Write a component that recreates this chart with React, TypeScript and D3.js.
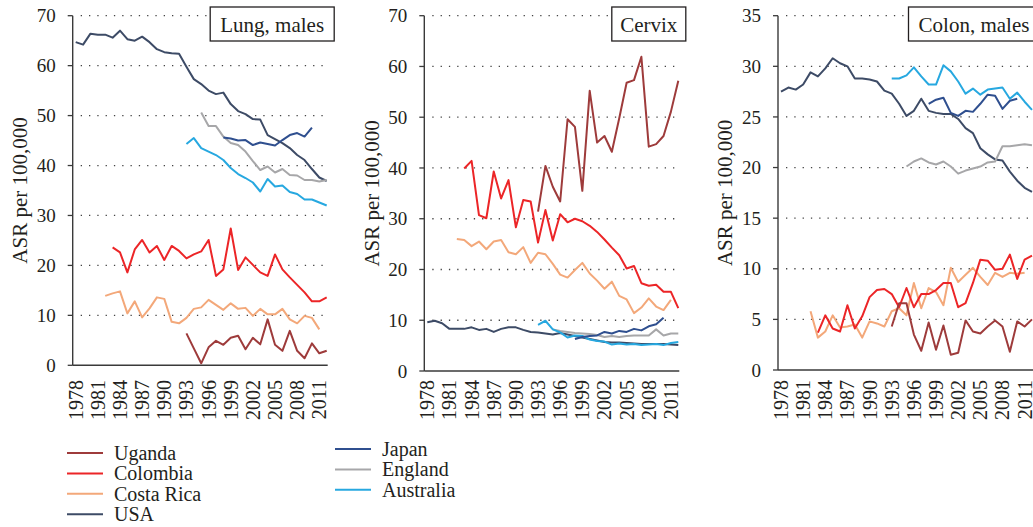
import React, { useEffect, useRef } from 'react';
import * as d3 from 'd3';

// first year of each country's series
const countries = ['Uganda', 'Colombia', 'Costa Rica', 'USA', 'Japan', 'England', 'Australia'];
const startYears = [1993, 1983, 1982, 1978, 1998, 1995, 1993];
const colors = ['#9e3b3b', '#ec2527', '#f3a87a', '#3d4b66', '#2f4f8f', '#a7a7a9', '#27a8e0'];

const tickYears = [1978, 1981, 1984, 1987, 1990, 1993, 1996, 1999, 2002, 2005, 2008, 2011];

// Lung, males
const lungUganda = [6.4, 3.4, 0.4, 3.6, 4.9, 4.1, 5.5, 5.9, 3.2, 5.5, 4.2, 9.2, 4.1, 2.9, 6.9, 2.9, 1.4, 4.4, 2.4, 2.9];
const lungColombia = [23.6, 22.6, 18.6, 23.2, 25.1, 22.6, 23.9, 21.1, 23.9, 22.9, 21.4, 22.2, 22.8, 25.1, 17.9, 19.2, 27.4, 19.1, 21.6, 20.1, 18.6, 17.9, 22.2, 19.2, 17.6, 16.1, 14.6, 12.8, 12.8, 13.6];
const lungCostaRica = [13.9, 14.4, 14.8, 10.4, 12.8, 9.6, 11.4, 13.6, 13.3, 8.7, 8.4, 9.5, 11.3, 11.6, 13.1, 12.1, 11.1, 12.4, 11.3, 11.5, 9.9, 11.3, 10.2, 10.2, 11.3, 9.2, 8.4, 9.9, 9.5, 7.2];
const lungUSA = [64.7, 64.2, 66.4, 66.2, 66.2, 65.6, 67.0, 65.3, 65.0, 65.8, 64.7, 63.3, 62.7, 62.5, 62.4, 59.8, 57.3, 56.3, 55.0, 54.3, 54.6, 52.3, 50.9, 50.3, 49.3, 49.2, 46.1, 45.3, 44.5, 43.5, 42.1, 41.1, 39.3, 37.6, 36.9];
const lungJapan = [45.6, 45.4, 45.0, 45.1, 44.1, 44.6, 44.3, 44.0, 45.1, 46.1, 46.5, 45.8, 47.6];
const lungEngland = [50.6, 47.9, 47.9, 45.8, 44.5, 44.1, 42.8, 40.9, 39.1, 39.8, 38.6, 39.3, 38.1, 38.0, 37.1, 37.1, 36.8, 37.1];
const lungAustralia = [44.3, 45.5, 43.5, 42.8, 42.1, 41.1, 39.5, 38.3, 37.5, 36.6, 34.8, 37.3, 35.8, 36.0, 34.7, 34.3, 33.2, 33.2, 32.6, 32.0];

// Cervix
const cervixUganda = [31.4, 40.4, 36.3, 33.4, 49.6, 48.1, 35.5, 55.2, 45.0, 46.3, 43.2, 49.8, 56.8, 57.3, 61.9, 44.2, 44.7, 46.3, 51.1, 57.2];
const cervixColombia = [39.9, 41.4, 30.7, 30.1, 39.3, 34.0, 37.6, 28.3, 33.7, 33.4, 25.3, 31.7, 25.7, 30.9, 29.3, 30.0, 29.5, 28.6, 27.4, 25.9, 24.3, 22.8, 20.2, 20.7, 17.3, 16.8, 17.0, 15.6, 15.6, 12.4];
const cervixCostaRica = [26.0, 25.8, 24.6, 25.5, 24.0, 25.5, 25.8, 23.4, 23.0, 24.4, 21.3, 23.3, 23.0, 21.1, 19.0, 18.4, 19.9, 21.3, 19.2, 17.8, 16.2, 17.6, 14.8, 14.1, 11.4, 12.5, 14.3, 12.7, 12.0, 14.0];
const cervixUSA = [9.6, 9.9, 9.4, 8.3, 8.3, 8.3, 8.6, 8.1, 8.3, 7.7, 8.3, 8.6, 8.6, 8.1, 7.7, 7.6, 7.4, 7.2, 7.5, 7.2, 6.9, 6.6, 6.3, 6.0, 5.7, 5.6, 5.6, 5.5, 5.4, 5.3, 5.3, 5.3, 5.3, 5.2, 5.1];
const cervixJapan = [6.3, 6.7, 6.9, 7.0, 7.7, 7.4, 7.9, 7.7, 8.3, 8.0, 8.8, 9.2, 10.5];
const cervixEngland = [8.2, 7.9, 7.7, 7.5, 7.4, 7.3, 7.1, 6.7, 6.9, 6.7, 6.9, 7.0, 7.0, 7.0, 8.2, 7.0, 7.4, 7.4];
const cervixAustralia = [9.1, 9.9, 8.2, 7.6, 6.6, 7.0, 6.9, 6.2, 5.9, 5.8, 5.2, 5.4, 5.2, 5.3, 5.1, 5.2, 5.3, 5.1, 5.5, 5.7];

// Colon, males
const colonUganda = [4.3, 6.6, 6.6, 3.5, 1.9, 4.7, 2.0, 4.4, 1.5, 1.7, 4.9, 3.8, 3.6, 4.3, 4.9, 4.3, 1.8, 4.8, 4.3, 5.0];
const colonColombia = [3.7, 5.4, 4.1, 3.8, 6.4, 4.1, 5.3, 7.2, 7.9, 8.0, 7.5, 6.2, 8.1, 6.2, 7.5, 7.5, 7.9, 8.6, 8.6, 6.2, 6.6, 8.6, 10.9, 10.8, 9.9, 10.0, 11.4, 9.0, 10.9, 11.3];
const colonCostaRica = [5.8, 3.2, 3.8, 5.4, 4.2, 4.3, 4.5, 3.2, 4.8, 4.6, 4.3, 5.8, 6.1, 5.4, 8.6, 6.1, 8.1, 7.7, 6.4, 10.1, 8.7, 9.4, 10.1, 9.2, 8.4, 9.6, 9.2, 9.6, 9.5, 9.6];
const colonUSA = [27.5, 27.9, 27.7, 28.2, 29.4, 29.0, 29.8, 30.8, 30.3, 30.0, 28.8, 28.8, 28.7, 28.5, 27.6, 27.3, 26.3, 25.1, 25.6, 26.8, 25.6, 25.4, 25.3, 25.3, 24.8, 23.9, 23.4, 21.9, 21.3, 20.8, 20.7, 19.6, 18.7, 18.0, 17.6];
const colonJapan = [26.3, 26.7, 26.9, 25.4, 25.1, 25.6, 25.5, 26.3, 27.2, 27.1, 25.8, 26.6, 26.8];
const colonEngland = [20.1, 20.6, 20.9, 20.5, 20.3, 20.6, 20.1, 19.4, 19.7, 19.9, 20.1, 20.5, 20.6, 22.1, 22.1, 22.2, 22.3, 22.2];
const colonAustralia = [28.8, 28.8, 29.1, 29.9, 29.0, 28.2, 28.2, 30.1, 29.5, 28.5, 27.3, 27.8, 27.2, 27.7, 27.8, 27.9, 26.8, 27.4, 26.5, 25.7];

const lungTicks = [0, 10, 20, 30, 40, 50, 60, 70];
const colonTicks = [0, 5, 10, 15, 20, 25, 30, 35];

const panels = [
  {
    title: 'Lung, males', ticks: lungTicks, axisX: 72.7, bottom: 365.3, boxW: 124,
    series: [lungUganda, lungColombia, lungCostaRica, lungUSA, lungJapan, lungEngland, lungAustralia],
  },
  {
    title: 'Cervix', ticks: lungTicks, axisX: 424.3, bottom: 371, boxW: 74,
    series: [cervixUganda, cervixColombia, cervixCostaRica, cervixUSA, cervixJapan, cervixEngland, cervixAustralia],
  },
  {
    title: 'Colon, males', ticks: colonTicks, axisX: 778, bottom: 370, boxW: 131,
    series: [colonUganda, colonColombia, colonCostaRica, colonUSA, colonJapan, colonEngland, colonAustralia],
  },
];

// draw order: back to front
const drawOrder = [3, 5, 6, 4, 2, 1, 0];

const FONT = '"Liberation Serif", "Times New Roman", serif';
const INK = '#231f20';

const App: React.FC = () => {
  const svgRef = useRef<SVGSVGElement>(null);

  useEffect(() => {
    if (!svgRef.current) return;
    const svg = d3.select(svgRef.current);
    svg.selectAll('*').remove();

    const top = 15.7;

    panels.forEach((p) => {
      const g = svg.append('g');
      const x = d3.scaleLinear().domain([1978, 2012]).range([p.axisX + 3, p.axisX + 254]);
      const y = d3.scaleLinear().domain([0, p.ticks[p.ticks.length - 1]]).range([p.bottom, top]);
      const right = p.axisX + 255;

      // dotted grid
      g.selectAll('line.grid')
        .data(p.ticks.slice(1))
        .join('line')
        .attr('x1', p.axisX + 8)
        .attr('x2', right)
        .attr('y1', d => y(d))
        .attr('y2', d => y(d))
        .attr('stroke', '#444')
        .attr('stroke-width', 1.3)
        .attr('stroke-dasharray', '1.3,7');

      // y ticks + labels
      g.selectAll('line.ytick')
        .data(p.ticks)
        .join('line')
        .attr('x1', p.axisX - 5)
        .attr('x2', p.axisX)
        .attr('y1', d => y(d))
        .attr('y2', d => y(d))
        .attr('stroke', '#3a3a3a')
        .attr('stroke-width', 1.3);

      g.selectAll('text.ylab')
        .data(p.ticks)
        .join('text')
        .attr('x', p.axisX - 17)
        .attr('y', d => y(d))
        .attr('dy', '0.35em')
        .attr('text-anchor', 'end')
        .attr('font-family', FONT)
        .attr('font-size', 19)
        .attr('fill', INK)
        .text(d => d);

      // axes
      g.append('line')
        .attr('x1', p.axisX).attr('x2', p.axisX)
        .attr('y1', top).attr('y2', p.bottom)
        .attr('stroke', '#3a3a3a').attr('stroke-width', 1.4);
      g.append('line')
        .attr('x1', p.axisX).attr('x2', right)
        .attr('y1', p.bottom).attr('y2', p.bottom)
        .attr('stroke', '#3a3a3a').attr('stroke-width', 1.4);

      // x labels
      g.selectAll('text.xlab')
        .data(tickYears)
        .join('text')
        .attr('transform', d => `translate(${x(d)},380) rotate(-90)`)
        .attr('dy', '0.35em')
        .attr('text-anchor', 'end')
        .attr('font-family', FONT)
        .attr('font-size', 20)
        .attr('fill', INK)
        .text(d => d);

      // y axis title
      g.append('text')
        .attr('transform', `translate(${p.axisX - 53},${(top + p.bottom) / 2}) rotate(-90)`)
        .attr('dy', '0.35em')
        .attr('text-anchor', 'middle')
        .attr('font-family', FONT)
        .attr('font-size', 21)
        .attr('fill', INK)
        .text('ASR per 100,000');

      // series
      drawOrder.forEach((ci) => {
        const start = startYears[ci];
        const gen = d3.line<number>()
          .x((_, i) => x(start + i))
          .y(d => y(d));
        g.append('path')
          .attr('d', gen(p.series[ci]))
          .attr('fill', 'none')
          .attr('stroke', colors[ci])
          .attr('stroke-width', 2)
          .attr('stroke-linejoin', 'round');
      });

      // title box
      const boxRight = p.axisX + 261.5;
      g.append('rect')
        .attr('x', boxRight - p.boxW)
        .attr('y', 7)
        .attr('width', p.boxW)
        .attr('height', 34)
        .attr('fill', '#fff')
        .attr('stroke', '#231f20')
        .attr('stroke-width', 1.3);
      g.append('text')
        .attr('x', boxRight - p.boxW / 2)
        .attr('y', 31.5)
        .attr('text-anchor', 'middle')
        .attr('font-family', FONT)
        .attr('font-size', 21)
        .attr('fill', INK)
        .text(p.title);
    });

    // legend
    const lg = svg.append('g');
    const rows = (idx: number[], lx: number, ly: number) => {
      idx.forEach((ci, k) => {
        const yy = ly + k * 20.4;
        lg.append('line')
          .attr('x1', lx).attr('x2', lx + 36)
          .attr('y1', yy).attr('y2', yy)
          .attr('stroke', colors[ci]).attr('stroke-width', 2);
        lg.append('text')
          .attr('x', lx + 47)
          .attr('y', yy)
          .attr('dy', '0.35em')
          .attr('font-family', FONT)
          .attr('font-size', 20)
          .attr('fill', INK)
          .text(countries[ci]);
      });
    };
    rows([0, 1, 2, 3], 67, 453);
    rows([4, 5, 6], 335, 449);
  }, []);

  return (
    <svg
      ref={svgRef}
      width={1033}
      height={527}
      style={{ position: 'absolute', left: 0, top: 0, background: '#fff' }}
    />
  );
};

export default App;
